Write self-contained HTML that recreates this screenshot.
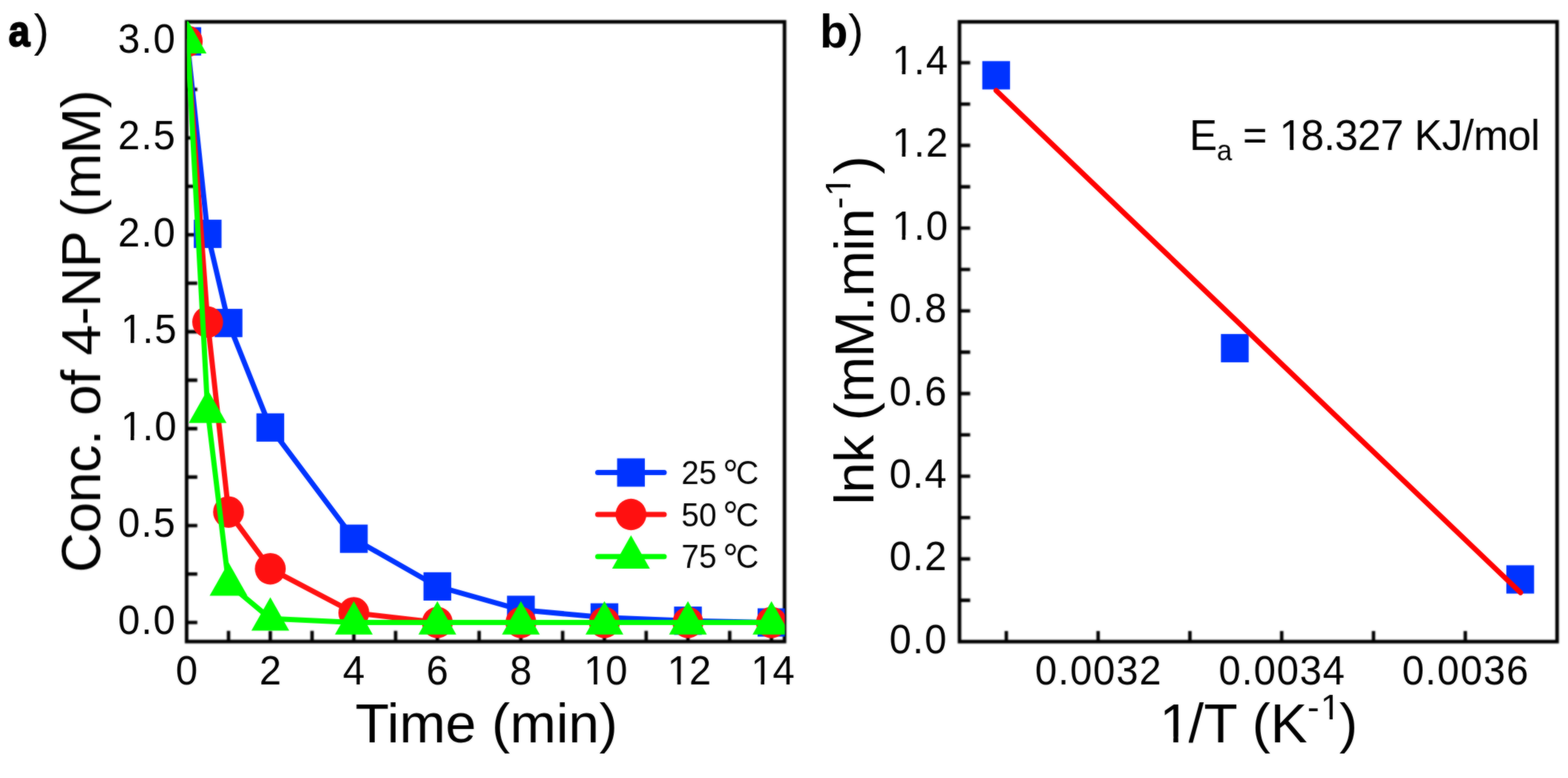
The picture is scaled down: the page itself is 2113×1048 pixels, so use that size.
<!DOCTYPE html>
<html lang="en">
<head>
<meta charset="utf-8">
<title>Catalytic reduction of 4-NP: concentration vs time and Arrhenius plot</title>
<style>
html,body{margin:0;padding:0;background:#fff;}
body{width:2113px;height:1048px;overflow:hidden;}
svg{display:block;}
text{white-space:pre;}
</style>
</head>
<body>
<svg role="img" aria-label="Panel a: concentration of 4-NP versus time at 25, 50 and 75 degrees C. Panel b: Arrhenius plot, lnk versus 1/T, with linear fit." width="2113" height="1048" viewBox="0 0 2113 1048" font-family='"Liberation Sans", sans-serif' fill="#000">
<defs><filter id="soft" x="0" y="0" width="2113" height="1048" filterUnits="userSpaceOnUse" color-interpolation-filters="sRGB"><feGaussianBlur in="SourceGraphic" stdDeviation="0.8" result="b"/><feComposite in="SourceGraphic" in2="b" operator="arithmetic" k1="0" k2="0.6" k3="0.4" k4="0"/></filter><filter id="soft2" x="0" y="0" width="2113" height="1048" filterUnits="userSpaceOnUse" color-interpolation-filters="sRGB"><feGaussianBlur in="SourceGraphic" stdDeviation="0.8" result="b"/><feComposite in="SourceGraphic" in2="b" operator="arithmetic" k1="0" k2="0.15" k3="0.85" k4="0"/></filter></defs>
<rect width="2113" height="1048" fill="#fff"/>
<g id="axes" filter="url(#soft2)">
<rect x="251.5" y="29.4" width="805.7" height="834.8" fill="none" stroke="#000" stroke-width="4.8"/>
<path d="M251.5,838.5h14.4M251.5,773.23h14.4M251.5,707.95h14.4M251.5,642.67h14.4M251.5,577.4h14.4M251.5,512.12h14.4M251.5,446.85h14.4M251.5,381.57h14.4M251.5,316.3h14.4M251.5,251.02h14.4M251.5,185.75h14.4M251.5,120.47h14.4M251.5,55.2h14.4M307.98,864.2v-14.4M364.26,864.2v-14.4M420.54,864.2v-14.4M476.82,864.2v-14.4M533.1,864.2v-14.4M589.38,864.2v-14.4M645.66,864.2v-14.4M701.94,864.2v-14.4M758.22,864.2v-14.4M814.5,864.2v-14.4M870.78,864.2v-14.4M927.06,864.2v-14.4M983.34,864.2v-14.4M1039.62,864.2v-14.4" stroke="#000" stroke-width="4.6" fill="none"/>
<rect x="1293" y="29.4" width="805.3" height="834.9" fill="none" stroke="#000" stroke-width="4.8"/>
<path d="M1293,808.6h14.4M1293,752.9h14.4M1293,697.2h14.4M1293,641.5h14.4M1293,585.8h14.4M1293,530.1h14.4M1293,474.4h14.4M1293,418.7h14.4M1293,363h14.4M1293,307.3h14.4M1293,251.6h14.4M1293,195.9h14.4M1293,140.2h14.4M1293,84.5h14.4M1356.1,864.3v-14.4M1479.8,864.3v-14.4M1603.5,864.3v-14.4M1727.2,864.3v-14.4M1850.9,864.3v-14.4M1974.6,864.3v-14.4" stroke="#000" stroke-width="4.6" fill="none"/>
</g>
<g filter="url(#soft)">
<g id="plot-a">
<clipPath id="ca"><rect x="251.9" y="28.6" width="805.7" height="835.6"/></clipPath>
<text transform="translate(237.5,853.9) scale(0.98,1.025)" font-size="54.3" text-anchor="end" letter-spacing="1.5">0.0</text>
<text transform="translate(237.5,723.35) scale(0.98,1.025)" font-size="54.3" text-anchor="end" letter-spacing="1.5">0.5</text>
<text transform="translate(237.5,592.8) scale(0.98,1.025)" font-size="54.3" text-anchor="end" letter-spacing="1.5" dx="1.79 -1.79 0">1.0</text>
<g fill="#fff" transform="translate(237.5,592.8) scale(0.98,1.025)"><rect x="-73.33" y="-5.38" width="10.58" height="6.88"/><rect x="-57.95" y="-5.38" width="10.15" height="6.88"/></g>
<text transform="translate(237.5,462.25) scale(0.98,1.025)" font-size="54.3" text-anchor="end" letter-spacing="1.5" dx="1.79 -1.79 0">1.5</text>
<g fill="#fff" transform="translate(237.5,462.25) scale(0.98,1.025)"><rect x="-73.33" y="-5.38" width="10.58" height="6.88"/><rect x="-57.95" y="-5.38" width="10.15" height="6.88"/></g>
<text transform="translate(237.5,331.7) scale(0.98,1.025)" font-size="54.3" text-anchor="end" letter-spacing="1.5">2.0</text>
<text transform="translate(237.5,201.15) scale(0.98,1.025)" font-size="54.3" text-anchor="end" letter-spacing="1.5">2.5</text>
<text transform="translate(237.5,70.6) scale(0.98,1.025)" font-size="54.3" text-anchor="end" letter-spacing="1.5">3.0</text>
<text transform="translate(252.4,922.2) scale(0.98,1.025)" font-size="54.3" text-anchor="middle" letter-spacing="1.5">0</text>
<text transform="translate(364.96,922.2) scale(0.98,1.025)" font-size="54.3" text-anchor="middle" letter-spacing="1.5">2</text>
<text transform="translate(477.52,922.2) scale(0.98,1.025)" font-size="54.3" text-anchor="middle" letter-spacing="1.5">4</text>
<text transform="translate(590.08,922.2) scale(0.98,1.025)" font-size="54.3" text-anchor="middle" letter-spacing="1.5">6</text>
<text transform="translate(702.64,922.2) scale(0.98,1.025)" font-size="54.3" text-anchor="middle" letter-spacing="1.5">8</text>
<text transform="translate(815.2,922.2) scale(0.98,1.025)" font-size="54.3" text-anchor="middle" letter-spacing="1.5" dx="1.79 -1.79">10</text>
<g fill="#fff" transform="translate(815.2,922.2) scale(0.98,1.025)"><rect x="-25.93" y="-5.38" width="10.58" height="6.88"/><rect x="-10.56" y="-5.38" width="10.15" height="6.88"/></g>
<text transform="translate(927.76,922.2) scale(0.98,1.025)" font-size="54.3" text-anchor="middle" letter-spacing="1.5" dx="1.79 -1.79">12</text>
<g fill="#fff" transform="translate(927.76,922.2) scale(0.98,1.025)"><rect x="-25.93" y="-5.38" width="10.58" height="6.88"/><rect x="-10.56" y="-5.38" width="10.15" height="6.88"/></g>
<text transform="translate(1040.32,922.2) scale(0.98,1.025)" font-size="54.3" text-anchor="middle" letter-spacing="1.5" dx="1.79 -1.79">14</text>
<g fill="#fff" transform="translate(1040.32,922.2) scale(0.98,1.025)"><rect x="-25.93" y="-5.38" width="10.58" height="6.88"/><rect x="-10.56" y="-5.38" width="10.15" height="6.88"/></g>
<text x="655.6" y="1000.2" font-size="74.6" text-anchor="middle">Time (min)</text>
<text transform="translate(135,771.3) rotate(-90)" font-size="74.6" letter-spacing="-0.67">Conc. of 4-NP (mM)</text>
<text transform="translate(11.4,62.1) scale(0.87,1)" font-size="59.5" font-weight="bold" stroke="#000" stroke-width="2" stroke-linejoin="miter">a</text>
<text x="45.5" y="61.5" font-size="62">)</text>
<g clip-path="url(#ca)">
<polyline points="252.38,55.72 279.84,314.99 307.98,435.1 364.26,575.83 476.82,725.7 589.38,789.94 701.94,821.53 814.5,831.71 927.06,836.15 1039.62,838.5" fill="none" stroke="#0033ff" stroke-width="7" stroke-linejoin="round" stroke-linecap="round"/>
<rect x="233.68" y="36.65" width="37.4" height="38.15" fill="#0033ff"/>
<rect x="261.14" y="295.92" width="37.4" height="38.15" fill="#0033ff"/>
<rect x="289.28" y="416.03" width="37.4" height="38.15" fill="#0033ff"/>
<rect x="345.56" y="556.76" width="37.4" height="38.15" fill="#0033ff"/>
<rect x="458.12" y="706.63" width="37.4" height="38.15" fill="#0033ff"/>
<rect x="570.68" y="770.86" width="37.4" height="38.15" fill="#0033ff"/>
<rect x="683.24" y="802.45" width="37.4" height="38.15" fill="#0033ff"/>
<rect x="795.8" y="812.64" width="37.4" height="38.15" fill="#0033ff"/>
<rect x="908.36" y="817.08" width="37.4" height="38.15" fill="#0033ff"/>
<rect x="1020.92" y="819.43" width="37.4" height="38.15" fill="#0033ff"/>
<polyline points="252.38,55.72 279.84,433.79 307.98,689.67 364.26,766.18 476.82,825.45 589.38,838.5 701.94,838.5 814.5,838.5 927.06,838.5 1039.62,838.5" fill="none" stroke="#ff1010" stroke-width="7" stroke-linejoin="round" stroke-linecap="round"/>
<ellipse cx="252.38" cy="55.72" rx="20.8" ry="21.22" fill="#ff1010"/>
<ellipse cx="279.84" cy="433.79" rx="20.8" ry="21.22" fill="#ff1010"/>
<ellipse cx="307.98" cy="689.67" rx="20.8" ry="21.22" fill="#ff1010"/>
<ellipse cx="364.26" cy="766.18" rx="20.8" ry="21.22" fill="#ff1010"/>
<ellipse cx="476.82" cy="825.45" rx="20.8" ry="21.22" fill="#ff1010"/>
<ellipse cx="589.38" cy="838.5" rx="20.8" ry="21.22" fill="#ff1010"/>
<ellipse cx="701.94" cy="838.5" rx="20.8" ry="21.22" fill="#ff1010"/>
<ellipse cx="814.5" cy="838.5" rx="20.8" ry="21.22" fill="#ff1010"/>
<ellipse cx="927.06" cy="838.5" rx="20.8" ry="21.22" fill="#ff1010"/>
<ellipse cx="1039.62" cy="838.5" rx="20.8" ry="21.22" fill="#ff1010"/>
<polyline points="252.83,55.72 279.84,553.38 307.98,786.28 364.26,833.28 476.82,838.5 589.38,838.5 701.94,838.5 814.5,838.5 927.06,838.5 1039.62,838.5" fill="none" stroke="#00ff00" stroke-width="7" stroke-linejoin="round" stroke-linecap="round"/>
<polygon points="252.83,27.02 227.33,72.02 278.33,72.02" fill="#00ff00"/>
<polygon points="279.84,524.68 254.34,569.68 305.34,569.68" fill="#00ff00"/>
<polygon points="307.98,757.58 282.48,802.58 333.48,802.58" fill="#00ff00"/>
<polygon points="364.26,804.58 338.76,849.58 389.76,849.58" fill="#00ff00"/>
<polygon points="476.82,809.8 451.32,854.8 502.32,854.8" fill="#00ff00"/>
<polygon points="589.38,809.8 563.88,854.8 614.88,854.8" fill="#00ff00"/>
<polygon points="701.94,809.8 676.44,854.8 727.44,854.8" fill="#00ff00"/>
<polygon points="814.5,809.8 789,854.8 840,854.8" fill="#00ff00"/>
<polygon points="927.06,809.8 901.56,854.8 952.56,854.8" fill="#00ff00"/>
<polygon points="1039.62,809.8 1014.12,854.8 1065.12,854.8" fill="#00ff00"/>
</g>
<polyline points="805.5,636.5 895,636.5" fill="none" stroke="#0033ff" stroke-width="7" stroke-linejoin="round" stroke-linecap="round"/>
<rect x="831.6" y="617.43" width="37.4" height="38.15" fill="#0033ff"/>
<text transform="translate(918.3,652.2) scale(0.955,1)" font-size="44.5">25 <tspan font-size="54.6" dy="5.3" dx="-3.5">°</tspan><tspan dy="-5.3" dx="-3.3">C</tspan></text>
<polyline points="805.5,693 895,693" fill="none" stroke="#ff1010" stroke-width="7" stroke-linejoin="round" stroke-linecap="round"/>
<ellipse cx="850.3" cy="693" rx="20.8" ry="21.22" fill="#ff1010"/>
<text transform="translate(918.3,708.7) scale(0.955,1)" font-size="44.5">50 <tspan font-size="54.6" dy="5.3" dx="-3.5">°</tspan><tspan dy="-5.3" dx="-3.3">C</tspan></text>
<polyline points="805.5,749.7 895,749.7" fill="none" stroke="#00ff00" stroke-width="7" stroke-linejoin="round" stroke-linecap="round"/>
<polygon points="850.3,721 824.8,766 875.8,766" fill="#00ff00"/>
<text transform="translate(918.3,765.4) scale(0.955,1)" font-size="44.5">75 <tspan font-size="54.6" dy="5.3" dx="-3.5">°</tspan><tspan dy="-5.3" dx="-3.3">C</tspan></text>
</g>
<g id="plot-b">
<text transform="translate(1277,879.7) scale(0.98,1.025)" font-size="54.3" text-anchor="end" letter-spacing="1.5">0.0</text>
<text transform="translate(1277,768.3) scale(0.98,1.025)" font-size="54.3" text-anchor="end" letter-spacing="1.5">0.2</text>
<text transform="translate(1277,656.9) scale(0.98,1.025)" font-size="54.3" text-anchor="end" letter-spacing="1.5">0.4</text>
<text transform="translate(1277,545.5) scale(0.98,1.025)" font-size="54.3" text-anchor="end" letter-spacing="1.5">0.6</text>
<text transform="translate(1277,434.1) scale(0.98,1.025)" font-size="54.3" text-anchor="end" letter-spacing="1.5">0.8</text>
<text transform="translate(1277,322.7) scale(0.98,1.025)" font-size="54.3" text-anchor="end" letter-spacing="1.5" dx="1.79 -1.79 0">1.0</text>
<g fill="#fff" transform="translate(1277,322.7) scale(0.98,1.025)"><rect x="-73.33" y="-5.38" width="10.58" height="6.88"/><rect x="-57.95" y="-5.38" width="10.15" height="6.88"/></g>
<text transform="translate(1277,211.3) scale(0.98,1.025)" font-size="54.3" text-anchor="end" letter-spacing="1.5" dx="1.79 -1.79 0">1.2</text>
<g fill="#fff" transform="translate(1277,211.3) scale(0.98,1.025)"><rect x="-73.33" y="-5.38" width="10.58" height="6.88"/><rect x="-57.95" y="-5.38" width="10.15" height="6.88"/></g>
<text transform="translate(1277,99.9) scale(0.98,1.025)" font-size="54.3" text-anchor="end" letter-spacing="1.5" dx="1.79 -1.79 0">1.4</text>
<g fill="#fff" transform="translate(1277,99.9) scale(0.98,1.025)"><rect x="-73.33" y="-5.38" width="10.58" height="6.88"/><rect x="-57.95" y="-5.38" width="10.15" height="6.88"/></g>
<text transform="translate(1480.5,922.2) scale(0.98,1.025)" font-size="54.3" text-anchor="middle" letter-spacing="1.5">0.0032</text>
<text transform="translate(1727.9,922.2) scale(0.98,1.025)" font-size="54.3" text-anchor="middle" letter-spacing="1.5">0.0034</text>
<text transform="translate(1975.3,922.2) scale(0.98,1.025)" font-size="54.3" text-anchor="middle" letter-spacing="1.5">0.0036</text>
<text transform="translate(1560,999.7) scale(1,1.0)" font-size="74.6" dx="2.46 -2.46 0 0 0 0">1/T (K<tspan font-size="48.3" dy="-30.7" dx="0 1.59">-1</tspan><tspan dy="30.7" dx="-1.59">)</tspan></text>
<g fill="#fff" transform="translate(1560,999.7) scale(1,1.0)"><rect x="6.69" y="-7.39" width="14.53" height="8.89"/><rect x="27.81" y="-7.39" width="13.95" height="8.89"/><rect x="222.22" y="-35.49" width="9.41" height="6.29"/><rect x="235.9" y="-35.49" width="9.03" height="6.29"/></g>
<text transform="translate(1176.6,680) rotate(-90)" font-size="74.6" letter-spacing="-0.7">lnk (mM.min<tspan font-size="48.3" dy="-30.7" dx="0 1.59">-1</tspan><tspan dy="30.7" dx="3.71">)</tspan></text>
<g fill="#fff" transform="translate(1176.6,680) rotate(-90)"><rect x="418.14" y="-35.49" width="9.41" height="6.29"/><rect x="431.82" y="-35.49" width="9.03" height="6.29"/></g>
<text transform="translate(1104.7,63.6) scale(1,1.03)" font-size="62" font-weight="bold">b</text>
<text x="1143.1" y="61.5" font-size="62">)</text>
<text transform="translate(1602.8,202) scale(1,1.03)" font-size="56.3" letter-spacing="-0.58">E<tspan font-size="37" dy="13.3">a</tspan><tspan dy="-13.3" dx="0 0 0 1.86 -1.86 0 0 0 0 0 0 0 0 0 0 0"> = 18.327 KJ/mol</tspan></text>
<g fill="#fff" transform="translate(1602.8,202) scale(1,1.03)"><rect x="124.45" y="-5.58" width="10.97" height="7.08"/><rect x="140.39" y="-5.58" width="10.53" height="7.08"/></g>
<rect x="1323.7" y="82.33" width="37.4" height="38.15" fill="#0033ff"/>
<rect x="1645.3" y="449.93" width="37.4" height="38.15" fill="#0033ff"/>
<rect x="2029.9" y="761.43" width="37.4" height="38.15" fill="#0033ff"/>
<line x1="1342.4" y1="122" x2="2049" y2="798.3" stroke="#ff0000" stroke-width="7.1" stroke-linecap="round"/>
</g>
</g>
</svg>
</body>
</html>
